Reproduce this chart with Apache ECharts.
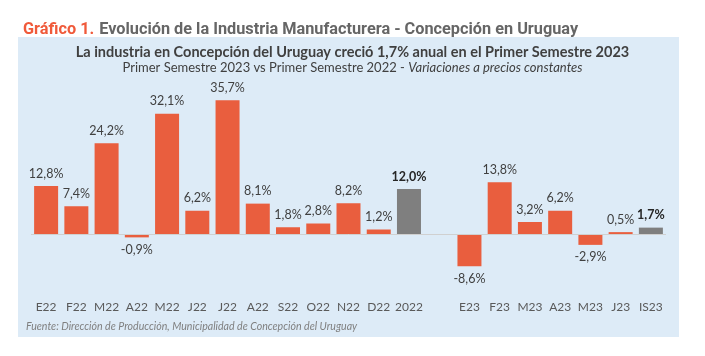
<!DOCTYPE html>
<html>
<head>
<meta charset="utf-8">
<script src="https://cdn.jsdelivr.net/npm/echarts@6/dist/echarts.min.js"></script>
<style>
  html, body { margin: 0; padding: 0; background: #ffffff; }
  #chart { width: 705px; height: 356px; }
</style>
</head>
<body>
<div id="chart"></div>
<script>
const categories = ['E22','F22','M22','A22','M22','J22','J22','A22','S22','O22','N22','D22','2022','','E23','F23','M23','A23','M23','J23','IS23'];
const values = [12.8, 7.4, 24.2, -0.9, 32.1, 6.2, 35.7, 8.1, 1.8, 2.8, 8.2, 1.2, 12.0, null, -8.6, 13.8, 3.2, 6.2, -2.9, 0.5, 1.7];
const summaryCategories = ['2022', 'IS23'];

const ORANGE = '#E95E3E';
const GRAY = '#7F7F7F';
const FONT = 'Lato, "Open Sans", sans-serif';
const TITLE_FONT = '"Liberation Sans Narrow", Roboto, sans-serif';

const fmt = v => (v == null ? '' : v.toFixed(1).replace('.', ',') + '%');

const seriesData = values.map((v, i) => {
  const isSummary = summaryCategories.includes(categories[i]);
  return {
    value: v,
    itemStyle: { color: isSummary ? GRAY : ORANGE },
    label: {
      position: v != null && v < 0 ? 'bottom' : 'top',
      fontWeight: isSummary ? 'bold' : 'normal',
      color: isSummary ? '#262626' : '#404040'
    }
  };
});

const chart = echarts.init(document.getElementById('chart'), null, { renderer: 'canvas' });
chart.setOption({
  backgroundColor: '#ffffff',
  animation: false,
  graphic: [
    {
      type: 'rect', z: -10,
      shape: { x: 18, y: 37, width: 661, height: 300 },
      style: { fill: '#DDEBF7' }
    },
    {
      type: 'text', z: 10,
      x: 26, y: 327,
      style: {
        text: 'Fuente: Dirección de Producción, Municipalidad de Concepción del Uruguay',
        fill: '#7F7F7F', font: 'italic 10.6px ' + FONT,
        verticalAlign: 'middle', align: 'left'
      }
    }
  ],
  title: [
    {
      left: 18, top: 16,
      text: '{a|Gráfico 1.} {b|Evolución de la Industria Manufacturera - Concepción en Uruguay}',
      textStyle: {
        rich: {
          a: { color: '#F05A3A', fontSize: 16.3, fontWeight: 'bold', fontFamily: TITLE_FONT },
          b: { color: '#666666', fontSize: 16.3, fontWeight: 'bold', fontFamily: TITLE_FONT }
        }
      }
    },
    {
      left: 'center', top: 40,
      text: 'La industria en Concepción del Uruguay creció 1,7% anual en el Primer Semestre 2023',
      textStyle: { color: '#404040', fontSize: 14.5, fontWeight: 'bold', fontFamily: FONT }
    },
    {
      left: 'center', top: 56,
      text: '{n|Primer Semestre 2023 vs Primer Semestre 2022 - }{i|Variaciones a precios constantes}',
      textStyle: {
        fontWeight: 'normal',
        rich: {
          n: { color: '#404040', fontSize: 13, fontWeight: 'normal', fontFamily: FONT },
          i: { color: '#404040', fontSize: 13, fontWeight: 'normal', fontStyle: 'italic', fontFamily: FONT }
        }
      }
    }
  ],
  grid: { left: 31, right: 39, top: 84, bottom: 65.75, containLabel: false },
  xAxis: {
    type: 'category',
    data: categories,
    axisLine: { show: false },
    axisTick: { show: false },
    axisLabel: { color: '#595959', fontSize: 12, fontFamily: FONT, margin: 11, interval: 0 }
  },
  yAxis: {
    type: 'value', min: -15, max: 40, show: false,
    splitLine: { show: false }
  },
  series: [{
    type: 'bar',
    data: seriesData,
    barWidth: 24,
    label: {
      show: true,
      distance: 6,
      fontSize: 12.5,
      fontFamily: FONT,
      formatter: p => fmt(p.value)
    },
    markLine: {
      silent: true,
      symbol: ['none', 'none'],
      label: { show: false },
      lineStyle: { color: '#D0D0D0', type: 'solid', width: 1 },
      data: [{ yAxis: 0 }]
    }
  }]
});
</script>
</body>
</html>
